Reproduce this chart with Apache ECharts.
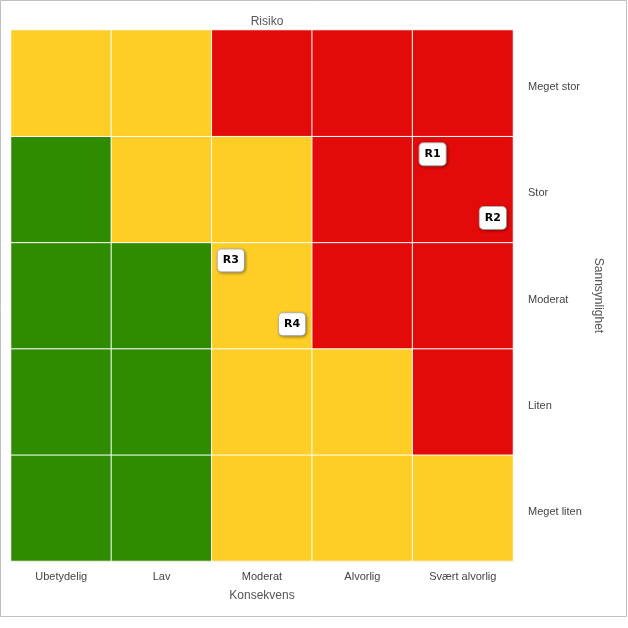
<!DOCTYPE html>
<html>
<head>
<meta charset="utf-8">
<script src="https://cdn.jsdelivr.net/npm/echarts@6/dist/echarts.min.js"></script>
<style>
html,body{margin:0;padding:0;background:#fff;}
#c{width:628px;height:628px;}
</style>
</head>
<body>
<div id="c"></div>
<script>
// Data
var consequences = ['Ubetydelig', 'Lav', 'Moderat', 'Alvorlig', 'Svært alvorlig'];
var probabilities = ['Meget liten', 'Liten', 'Moderat', 'Stor', 'Meget stor']; // bottom to top
// risk level per cell: rows bottom (Meget liten) to top (Meget stor); 0 green, 1 yellow, 2 red
var levelMeget_liten = [0, 0, 1, 1, 1];
var levelLiten       = [0, 0, 1, 1, 2];
var levelModerat     = [0, 0, 1, 2, 2];
var levelStor        = [0, 1, 1, 2, 2];
var levelMeget_stor  = [1, 1, 2, 2, 2];
var levelRows = [levelMeget_liten, levelLiten, levelModerat, levelStor, levelMeget_stor];
var levelColors = ['#2f8c00', '#fecd26', '#e30a0a'];

// Risks
var riskNames = ['R1', 'R2', 'R3', 'R4'];
var riskX = [4.2, 4.8, 2.19, 2.8];
var riskY = [3.83, 3.23, 2.83, 2.23];

var heatData = [];
for (var r = 0; r < levelRows.length; r++) {
  for (var c = 0; c < consequences.length; c++) {
    heatData.push({value: [c, r, levelRows[r][c]], itemStyle: {color: levelColors[levelRows[r][c]]}});
  }
}
var riskData = riskNames.map(function (n, i) { return {name: n, value: [riskX[i], riskY[i]]}; });

var font = 'Liberation Sans, Arial, sans-serif';
var chart = echarts.init(document.getElementById('c'), null, {renderer: 'canvas'});
chart.setOption({
  animation: false,
  backgroundColor: '#fff',
  textStyle: {fontFamily: font},
  graphic: [{
    type: 'rect', shape: {x: 0.5, y: 0.5, width: 626, height: 616},
    style: {fill: 'none', stroke: '#c0c0c0', lineWidth: 1}, silent: true, z: -1
  }],
  title: {
    text: 'Risiko', left: 262, top: 11, textAlign: 'center',
    textStyle: {fontFamily: font, fontSize: 12, fontWeight: 'normal', color: '#555'}
  },
  grid: {left: 11, top: 30, width: 502, height: 531},
  xAxis: [{
    type: 'category', data: consequences, position: 'bottom',
    name: 'Konsekvens', nameLocation: 'middle', nameGap: 29,
    nameTextStyle: {fontFamily: font, fontSize: 12, color: '#555'},
    axisLine: {show: true, lineStyle: {color: '#c0c0c0'}},
    axisTick: {show: false},
    axisLabel: {fontFamily: font, fontSize: 11, color: '#444', margin: 10},
    splitLine: {show: false}
  }, {
    type: 'value', min: 0, max: 5, show: false
  }],
  yAxis: [{
    type: 'category', data: probabilities, position: 'right',
    name: 'Sannsynlighet', nameLocation: 'middle', nameGap: 78, nameRotate: -90,
    nameTextStyle: {fontFamily: font, fontSize: 12, color: '#555'},
    axisLine: {show: false},
    axisTick: {show: true, length: 4, lineStyle: {color: '#e0e0e0'}},
    axisLabel: {fontFamily: font, fontSize: 11, color: '#444', margin: 15, align: 'left', verticalAlign: 'top', lineHeight: 8},
    splitLine: {show: false}
  }, {
    type: 'value', min: 0, max: 5, show: false
  }],
  series: [{
    type: 'heatmap',
    data: heatData,
    itemStyle: {borderColor: '#fff', borderWidth: 1},
    label: {show: false},
    emphasis: {disabled: true}
  }, {
    type: 'scatter',
    xAxisIndex: 1, yAxisIndex: 1,
    data: riskData,
    symbolSize: 2,
    itemStyle: {color: 'rgba(0,0,0,0)', opacity: 1},
    label: {
      show: true, position: 'inside', formatter: '{b}',
      fontFamily: 'DejaVu Sans, sans-serif', fontSize: 11, fontWeight: 'bold', color: '#000',
      backgroundColor: '#fff', borderColor: '#bbb', borderWidth: 1, borderRadius: 4,
      padding: [6, 5, 5, 5],
      shadowColor: 'rgba(0,0,0,0.3)', shadowBlur: 3, shadowOffsetX: 1, shadowOffsetY: 1
    },
    labelLayout: {hideOverlap: false},
    emphasis: {disabled: true},
    z: 5
  }]
});
</script>
</body>
</html>
